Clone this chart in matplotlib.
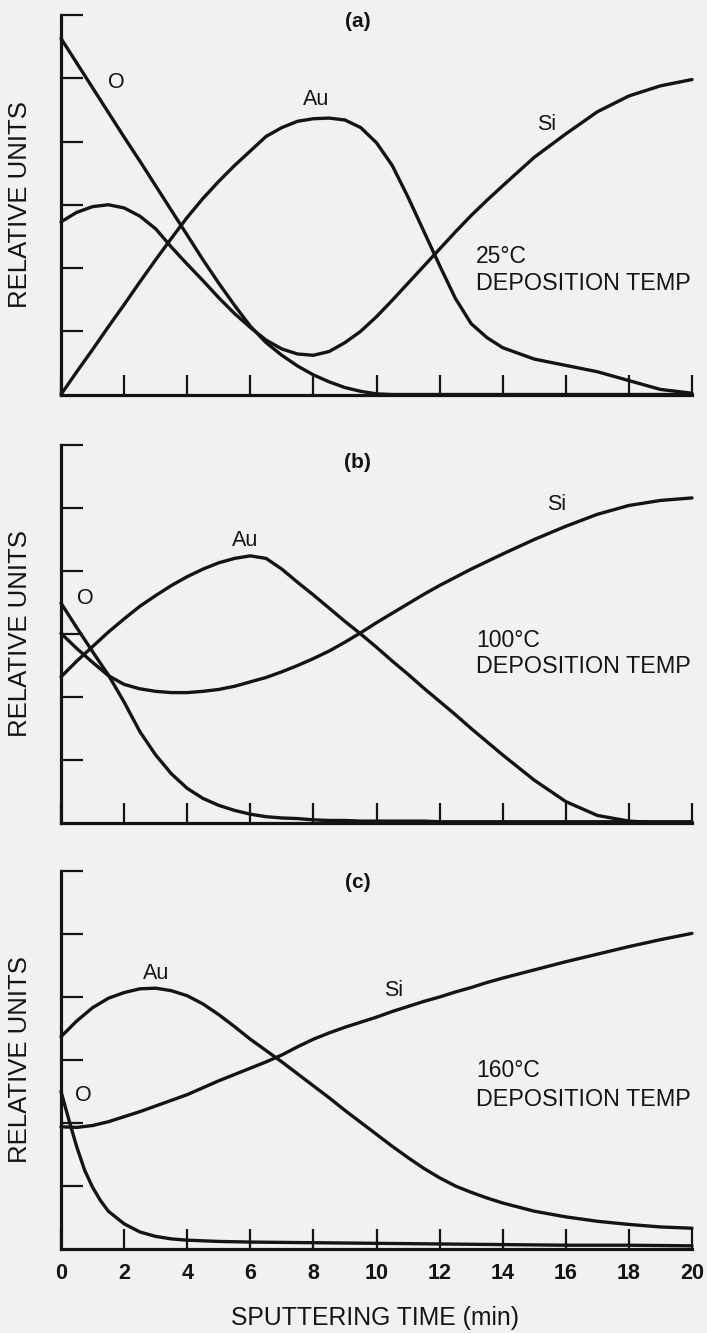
import matplotlib
matplotlib.use("Agg")
import matplotlib.pyplot as plt

plt.rcParams['font.family'] = ['Liberation Sans', 'DejaVu Sans']

# ---------------- data ----------------
t_grid = [0, 0.5, 1, 1.5, 2, 2.5, 3, 3.5, 4, 4.5, 5, 5.5, 6, 6.5, 7, 7.5, 8, 8.5,
          9, 9.5, 10, 10.5, 11, 11.5, 12, 12.5, 13, 13.5, 14, 15, 16, 17, 18, 19, 20]

# (a) 25 C
o_a = [5.63, 5.24, 4.85, 4.46, 4.07, 3.69, 3.30, 2.91, 2.52, 2.13, 1.76, 1.41, 1.08, 0.82,
       0.62, 0.45, 0.31, 0.20, 0.11, 0.05, 0.01, 0, 0, 0, 0, 0, 0, 0, 0, 0, 0, 0, 0, 0, 0]
au_a = [0.0, 0.36, 0.71, 1.07, 1.42, 1.78, 2.13, 2.47, 2.80, 3.10, 3.37, 3.62, 3.85, 4.08,
        4.22, 4.32, 4.36, 4.37, 4.34, 4.22, 3.98, 3.62, 3.12, 2.58, 2.04, 1.52, 1.12, 0.90,
        0.74, 0.56, 0.46, 0.36, 0.22, 0.08, 0.02]
si_a = [2.73, 2.88, 2.97, 3.00, 2.95, 2.82, 2.62, 2.33, 2.06, 1.80, 1.53, 1.28, 1.06, 0.86,
        0.72, 0.64, 0.62, 0.68, 0.82, 1.00, 1.23, 1.49, 1.76, 2.03, 2.30, 2.57, 2.83, 3.07,
        3.30, 3.75, 4.12, 4.47, 4.72, 4.88, 4.98]

# (b) 100 C
o_b = [3.49, 3.10, 2.72, 2.35, 1.92, 1.45, 1.08, 0.78, 0.55, 0.39, 0.28, 0.20, 0.14, 0.10,
       0.08, 0.07, 0.05, 0.04, 0.04, 0.03, 0.03, 0.03, 0.03, 0.03, 0.02, 0.02, 0.02, 0.02,
       0.02, 0.02, 0.02, 0.02, 0.02, 0.02, 0.02]
au_b = [2.32, 2.57, 2.80, 3.03, 3.24, 3.44, 3.61, 3.77, 3.91, 4.03, 4.13, 4.20, 4.24, 4.20,
        4.03, 3.82, 3.62, 3.41, 3.20, 3.00, 2.79, 2.57, 2.36, 2.14, 1.93, 1.72, 1.50, 1.29,
        1.08, 0.68, 0.34, 0.12, 0.03, 0.0, 0.0]
si_b = [3.01, 2.77, 2.55, 2.34, 2.20, 2.13, 2.09, 2.07, 2.07, 2.09, 2.12, 2.17, 2.24, 2.31,
        2.40, 2.50, 2.61, 2.73, 2.87, 3.02, 3.18, 3.33, 3.48, 3.63, 3.77, 3.90, 4.03, 4.15,
        4.27, 4.50, 4.71, 4.90, 5.04, 5.12, 5.16]

# (c) 160 C
t_o_c = [0, 0.25, 0.5, 0.75, 1, 1.25, 1.5, 2, 2.5, 3, 3.5, 4, 5, 6, 8, 10, 12, 14, 16, 18, 20]
o_c = [2.50, 2.05, 1.62, 1.25, 0.98, 0.77, 0.60, 0.40, 0.27, 0.20, 0.16, 0.14, 0.12, 0.11,
       0.10, 0.09, 0.08, 0.07, 0.06, 0.06, 0.05]
au_c = [3.37, 3.62, 3.83, 3.98, 4.07, 4.13, 4.14, 4.10, 4.02, 3.89, 3.72, 3.53, 3.33, 3.15,
        2.97, 2.78, 2.59, 2.40, 2.20, 2.01, 1.82, 1.63, 1.45, 1.28, 1.13, 1.00, 0.90, 0.81,
        0.73, 0.60, 0.51, 0.44, 0.39, 0.35, 0.33]
si_c = [1.94, 1.93, 1.96, 2.02, 2.10, 2.18, 2.27, 2.36, 2.45, 2.56, 2.67, 2.77, 2.87, 2.97,
        3.08, 3.21, 3.33, 3.43, 3.52, 3.60, 3.68, 3.77, 3.85, 3.93, 4.00, 4.08, 4.15, 4.23,
        4.30, 4.43, 4.56, 4.68, 4.80, 4.91, 5.01]

panel_tags = ["(a)", "(b)", "(c)"]
temp_labels = ["25°C", "100°C", "160°C"]
x_ticks = [0, 2, 4, 6, 8, 10, 12, 14, 16, 18, 20]
y_ticks = [1, 2, 3, 4, 5, 6]

# ---------------- figure ----------------
BG = '#f1f1ef'
INK = '#141414'
fig = plt.figure(figsize=(7.07, 13.33), dpi=100, facecolor=BG)

W, H = 707.0, 1333.0
x0, x1 = 61, 692
panels_px = [(15, 394.5), (445, 823), (871, 1249)]

series = [
    ((t_grid, o_a), (t_grid, au_a), (t_grid, si_a)),
    ((t_grid, o_b), (t_grid, au_b), (t_grid, si_b)),
    ((t_o_c, o_c), (t_grid, au_c), (t_grid, si_c)),
]

labels_pos = [
    {"O": (1.74, 4.94), "Au": (8.1, 4.66), "Si": (15.4, 4.27), "tag": (9.4, 5.9),
     "temp": 2.18, "dep": 1.76},
    {"O": (0.76, 3.56), "Au": (5.85, 4.49), "Si": (15.7, 5.05), "tag": (9.4, 5.72),
     "temp": 2.90, "dep": 2.48},
    {"O": (0.7, 2.44), "Au": (3.02, 4.38), "Si": (10.55, 4.11), "tag": (9.4, 5.81),
     "temp": 2.84, "dep": 2.37},
]

LW = 2.4
for i, (top, bot) in enumerate(panels_px):
    ax = fig.add_axes([x0 / W, 1 - bot / H, (x1 - x0) / W, (bot - top) / H])
    ax.set_facecolor(BG)
    ax.set_xlim(0, 20)
    ax.set_ylim(0, 6)
    for (xs, ys) in series[i]:
        ax.plot(xs, ys, color=INK, lw=LW, clip_on=False, solid_capstyle='round',
                solid_joinstyle='round')
    for s in ('top', 'right'):
        ax.spines[s].set_visible(False)
    for s in ('left', 'bottom'):
        ax.spines[s].set_linewidth(2.3)
        ax.spines[s].set_color(INK)
    ax.set_xticks(x_ticks)
    ax.set_yticks(y_ticks)
    ax.tick_params(axis='x', direction='in', length=14.5, width=1.6, color=INK,
                   pad=10, labelsize=15.5)
    ax.tick_params(axis='y', direction='in', length=15.5, width=1.6, color=INK,
                   labelleft=False)
    if i < 2:
        ax.tick_params(axis='x', labelbottom=False)
    else:
        for lab in ax.get_xticklabels():
            lab.set_fontweight('bold')
            lab.set_color(INK)

    lp = labels_pos[i]
    for name in ("O", "Au", "Si"):
        ax.text(*lp[name], name, fontsize=15.5, color=INK, ha='center', va='center')
    ax.text(*lp["tag"], panel_tags[i], fontsize=15, fontweight='bold', color=INK,
            ha='center', va='center')
    ax.text(13.15, lp["temp"], temp_labels[i], fontsize=16.5, color=INK,
            ha='left', va='center')
    ax.text(13.15, lp["dep"], "DEPOSITION TEMP", fontsize=16.8, color=INK,
            ha='left', va='center')

    fig.text(20 / W, 1 - ((top + bot) / 2) / H, "RELATIVE UNITS", rotation=90,
             fontsize=18.5, color=INK, ha='center', va='center')

fig.text(375 / W, 1 - 1318 / H, "SPUTTERING TIME (min)", fontsize=17.8, color=INK,
         ha='center', va='center')

fig.savefig("out.png", dpi=100, facecolor=BG)
